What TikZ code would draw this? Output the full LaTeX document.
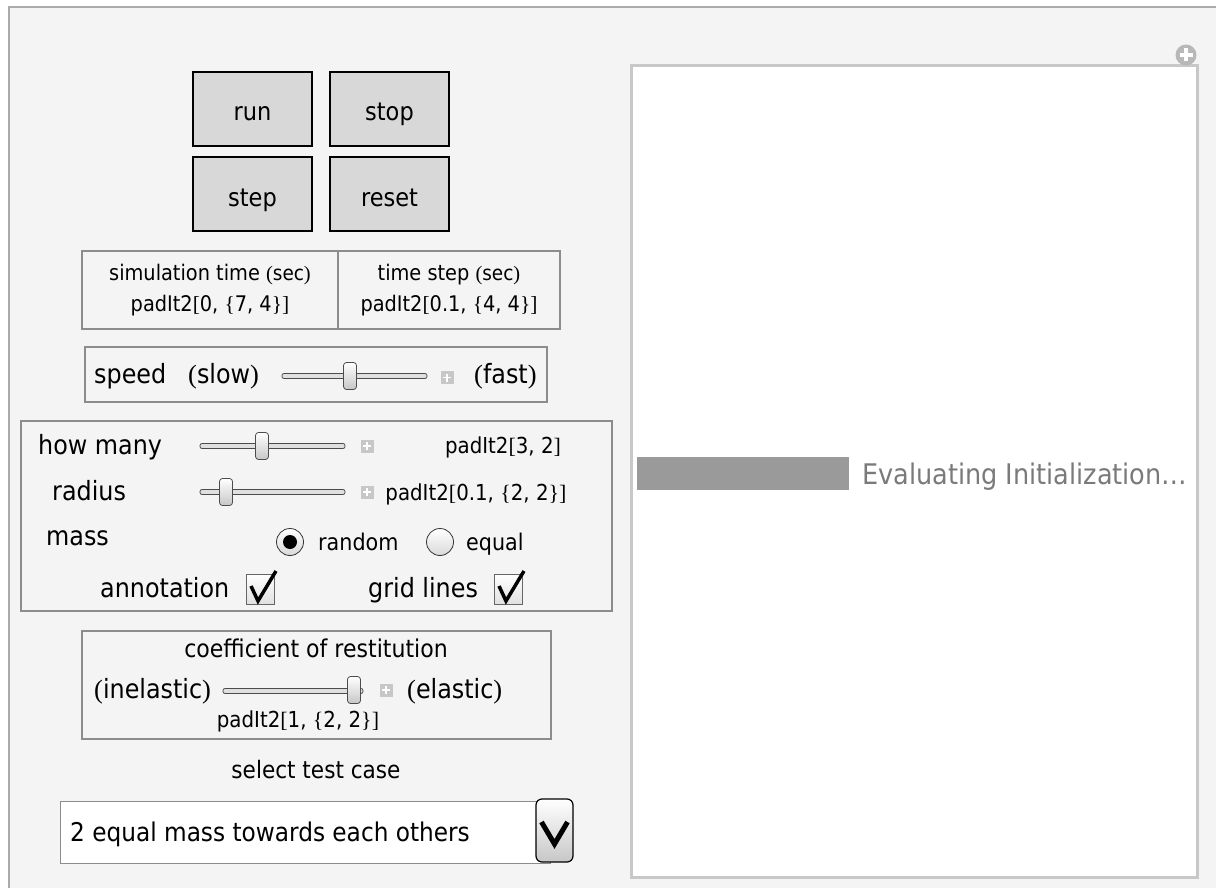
\documentclass[tikz,border=0pt]{standalone}
\usepackage{fontspec}
\setmainfont{DejaVu Sans}[FakeStretch=0.9]
\newfontfamily\brfont{Liberation Serif}
\usetikzlibrary{positioning}
\definecolor{panelbg}{HTML}{F4F4F4}
\definecolor{btnfill}{HTML}{D8D8D8}
\definecolor{framegray}{HTML}{8C8C8C}
\definecolor{outergray}{HTML}{ABABAB}
\definecolor{viewgray}{HTML}{C8C8C8}
\definecolor{barfill}{HTML}{9A9A9A}
\definecolor{evaltext}{HTML}{7A7A7A}
\newcommand\fsz[1]{\fontsize{#1}{#1}\selectfont}
\newcommand\sqbr[1]{{\brfont[}#1{\brfont]}}
\newcommand\cubr[1]{{\brfont\{}#1{\brfont\}}}
\newcommand\rdbr[1]{{\brfont(}#1{\brfont)}}

\begin{document}
\begin{tikzpicture}[x=1pt, y=-1pt,
    pushbtn/.style = {draw, line width=2pt, fill=btnfill,
      minimum width=119pt, minimum height=74pt, font=\fsz{25},
      text height=24pt, text depth=0pt},
    ctlframe/.style = {draw=framegray, line width=2pt},
    celllbl/.style = {align=center, inner sep=0pt, font=\fontsize{21.5}{31}\selectfont},
    biglbl/.style = {font=\fsz{26.5}, inner sep=0pt},
    padlbl/.style = {font=\fsz{22}, inner sep=0pt, anchor=base},
    optlbl/.style = {font=\fsz{23}, inner sep=0pt, anchor=base west},
    sltrack/.style = {draw=black!70, fill=black!12, line width=0.8pt, rounded corners=2pt},
    slthumb/.style = {draw=black!70, line width=0.8pt, rounded corners=3pt,
      top color=white, bottom color=black!22, minimum width=13pt,
      minimum height=27pt, inner sep=0pt},
    plusbox/.style = {fill=black!22, minimum size=13pt, inner sep=0pt,
      path picture={\draw[white, line width=1.6pt]
        ([xshift=-4pt]path picture bounding box.center) -- ([xshift=4pt]path picture bounding box.center)
        ([yshift=-4pt]path picture bounding box.center) -- ([yshift=4pt]path picture bounding box.center);}},
    tickbox/.style = {draw=black!60, line width=0.8pt, top color=white,
      bottom color=black!12, minimum width=28pt, minimum height=30pt, inner sep=0pt},
    radiobtn/.style = {circle, draw=black!80, line width=0.8pt, top color=white,
      bottom color=black!15, minimum size=27pt, inner sep=0pt},
    tick/.style = {line width=3.5pt, line join=miter}]

  \useasboundingbox (0,0) rectangle (1216,888);
  \fill[white] (0,0) rectangle (1216,888);
  \fill[panelbg] (8,6) rectangle (1216,888);
  \draw[outergray, line width=2.5pt] (9,888) -- (9,7) -- (1216,7);

  % buttons
  \node[pushbtn] (run) at (252.5,109) {run};
  \node[pushbtn, right=16pt of run] (stop) {stop};
  \node[pushbtn, below=9pt of run] (step) {step};
  \node[pushbtn, below=9pt of stop] (reset) {reset};

  % time fields
  \node[ctlframe, minimum width=256pt, minimum height=78pt] (simcell) at (210,290) {};
  \node[ctlframe, minimum width=222pt, minimum height=78pt] (stepcell) at (449,290) {};
  \node[celllbl] (simtime) at (simcell) {simulation time {\fsz{20.5}\rdbr{sec}}\\padIt2\sqbr{0, \cubr{7, 4}}};
  \node[celllbl] (steptime) at (stepcell) {time step {\fsz{20.5}\rdbr{sec}}\\padIt2\sqbr{0.1, \cubr{4, 4}}};

  % speed
  \node[ctlframe, minimum width=462pt, minimum height=55pt] (speedbox) at (316,374.5) {};
  \node[biglbl, anchor=base west] (speedlbl) at (94,383) {speed};
  \node[biglbl, anchor=base west] (slowlbl) at (188,383) {\rdbr{slow}};
  \draw[sltrack] (282,373.5) rectangle (427,378.5);
  \node[slthumb] (speedthumb) at (350,376) {};
  \node[plusbox] (speedplus) at (447,377.5) {};
  \node[biglbl, anchor=base west] (fastlbl) at (474,383) {\rdbr{fast}};

  % options
  \node[ctlframe, minimum width=591pt, minimum height=190pt] (optbox) at (316.5,516) {};
  \node[biglbl, anchor=base west] (howmany) at (38,454) {how many};
  \draw[sltrack] (200,443.5) rectangle (345,448.5);
  \node[slthumb] (countthumb) at (262,446) {};
  \node[plusbox] (countplus) at (367,446) {};
  \node[padlbl] (countval) at (503,453.5) {padIt2\sqbr{3, 2}};

  \node[biglbl, anchor=base west] (radius) at (52,500) {radius};
  \draw[sltrack] (200,489.5) rectangle (345,494.5);
  \node[slthumb] (radthumb) at (226,492) {};
  \node[plusbox] (radplus) at (367,492) {};
  \node[padlbl] (radval) at (476,500.5) {padIt2\sqbr{0.1, \cubr{2, 2}}};

  \node[biglbl, anchor=base west] (mass) at (46,545) {mass};
  \node[radiobtn] (randbtn) at (290,542) {};
  \fill (randbtn.center) circle[radius=7pt];
  \node[optlbl] (randlbl) at (318,550) {random};
  \node[radiobtn] (eqbtn) at (440,542) {};
  \node[optlbl] (eqlbl) at (466,550) {equal};

  \node[biglbl, anchor=base west] (annot) at (100,597) {annotation};
  \node[tickbox] (annotbox) at (260.5,589) {};
  \draw[tick] (251,586) -- (258,601) -- (276,571);
  \node[biglbl, anchor=base west] (grid) at (368,597) {grid lines};
  \node[tickbox] (gridbox) at (508.5,589) {};
  \draw[tick] (499,586) -- (506,601) -- (524,571);

  % restitution
  \node[ctlframe, minimum width=469pt, minimum height=108pt] (coefbox) at (316.5,685) {};
  \node[font=\fsz{24.5}, inner sep=0pt, anchor=base] (coeflbl) at (316,657) {coefficient of restitution};
  \node[biglbl, anchor=base west] (inelast) at (94,698) {\rdbr{inelastic}};
  \draw[sltrack] (223,688.5) rectangle (363,693.5);
  \node[slthumb] (coefthumb) at (354,690) {};
  \node[plusbox] (coefplus) at (386,690) {};
  \node[biglbl, anchor=base west] (elast) at (407,698) {\rdbr{elastic}};
  \node[padlbl] (coefval) at (298,727) {padIt2\sqbr{1, \cubr{2, 2}}};

  % test case
  \node[font=\fsz{24}, inner sep=0pt, anchor=base] (caseq) at (316,778) {select test case};
  \node[draw=black!45, line width=1pt, fill=white, minimum width=490pt, minimum height=62pt] (casebox) at (305,832) {};
  \node[font=\fsz{25.8}, inner sep=0pt, anchor=base west] (caselbl) at (70,841) {2 equal mass towards each others};
  \node[draw, line width=1.2pt, rounded corners=6pt, top color=white, bottom color=black!22,
    minimum width=37pt, minimum height=63pt] (casebtn) at (554.5,830.5) {};
  \draw[line width=5pt, line join=miter] (541.5,822) -- (554.5,844) -- (567.5,822);

  % view
  \node[draw=viewgray, line width=3pt, fill=white, minimum width=566pt, minimum height=811pt] (view) at (914,471.5) {};
  \node[circle, fill=black!28, minimum size=21pt, inner sep=0pt,
    path picture={\draw[white, line width=4pt]
      ([xshift=-6.5pt]path picture bounding box.center) -- ([xshift=6.5pt]path picture bounding box.center)
      ([yshift=-6.5pt]path picture bounding box.center) -- ([yshift=6.5pt]path picture bounding box.center);}]
    (zoomplus) at (1186,55) {};
  \node[fill=barfill, minimum width=212pt, minimum height=33pt, inner sep=0pt, anchor=north west] (bar) at (637,457) {};
  \node[font=\fsz{28.4}, text=evaltext, inner sep=0pt, anchor=base west] (evaltxt) at (862,484) {Evaluating Initialization…};
\end{tikzpicture}
\end{document}
